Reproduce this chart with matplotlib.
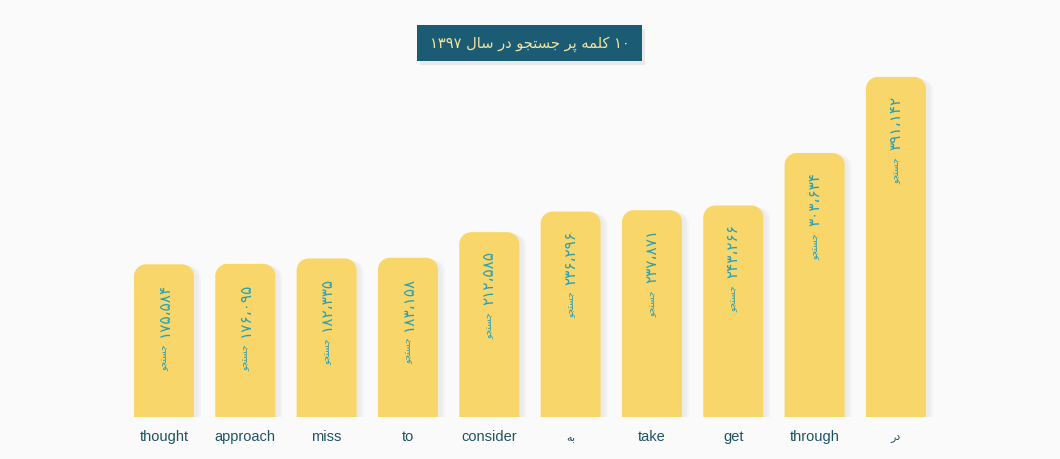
import numpy as np
import matplotlib
matplotlib.use('Agg')
import matplotlib.pyplot as plt
from matplotlib.path import Path
from matplotlib.patches import PathPatch, FancyBboxPatch

# data
words = ["thought", "approach", "miss", "to", "consider", "به", "take", "get", "through", "در"]
searches = [175584, 176095, 182335, 183158, 212585, 236296, 237871, 243266, 303634, 391142]
title = "۱۰ کلمه پر جستجو در سال ۱۳۹۷"
unit_word = "جستجو"

BG = '#fafafa'
BAR = '#f8d66a'
SHADOW = '#ebebeb'
TEAL = '#1b5b73'
LABEL = '#1f5364'
VALUE = '#2a9fb4'

# minimal arabic shaping (isolated, final, initial, medial)
FORMS = {
    'ا': (0xFE8D, 0xFE8E, None, None),
    'د': (0xFEA9, 0xFEAA, None, None),
    'ر': (0xFEAD, 0xFEAE, None, None),
    'و': (0xFEED, 0xFEEE, None, None),
    'ب': (0xFE8F, 0xFE90, 0xFE91, 0xFE92),
    'ج': (0xFE9D, 0xFE9E, 0xFE9F, 0xFEA0),
    'س': (0xFEB1, 0xFEB2, 0xFEB3, 0xFEB4),
    'ت': (0xFE95, 0xFE96, 0xFE97, 0xFE98),
    'ل': (0xFEDD, 0xFEDE, 0xFEDF, 0xFEE0),
    'م': (0xFEE1, 0xFEE2, 0xFEE3, 0xFEE4),
    'ه': (0xFEE9, 0xFEEA, 0xFEEB, 0xFEEC),
    'پ': (0xFB56, 0xFB57, 0xFB58, 0xFB59),
    'ک': (0xFB8E, 0xFB8F, 0xFB90, 0xFB91),
}

def shape_word(w):
    out = []
    for i, c in enumerate(w):
        if c not in FORMS:
            out.append(c)
            continue
        prev = w[i - 1] if i > 0 else None
        nxt = w[i + 1] if i + 1 < len(w) else None
        jp = prev in FORMS and FORMS[prev][2] is not None
        jn = nxt in FORMS and FORMS[c][2] is not None
        iso, fin, ini, med = FORMS[c]
        if jp and jn:
            out.append(chr(med))
        elif jp:
            out.append(chr(fin))
        elif jn:
            out.append(chr(ini))
        else:
            out.append(chr(iso))
    return ''.join(out)

def rtl(s):
    toks = s.split(' ')
    vis = []
    for t in reversed(toks):
        if any(ch in FORMS for ch in t):
            vis.append(shape_word(t)[::-1])
        else:
            vis.append(t)
    return ' '.join(vis)

def fa_num(n):
    d = '۰۱۲۳۴۵۶۷۸۹'
    s = f"{n:,}".replace(',', '،')
    return ''.join(d[int(ch)] if ch.isdigit() else ch for ch in s)

fig = plt.figure(figsize=(10.6, 4.6), dpi=100)
fig.patch.set_facecolor(BG)
ax = fig.add_axes([123.3 / 1060, 42 / 460, 813.3 / 1060, 347.8 / 460])
ax.set_facecolor(BG)
ymax = 400000
ax.set_xlim(-0.5, len(words) - 0.5)
ax.set_ylim(0, ymax)
ax.axis('off')

px_x = len(words) / 813.3      # data units per pixel
px_y = ymax / 347.8
bw = 60 * px_x
r = 12

def rounded_bar(x0, w, h, rad_px):
    rx, ry = rad_px * px_x, rad_px * px_y
    k = 0.5523
    verts = [(x0, 0), (x0, h - ry),
             (x0, h - ry + k * ry), (x0 + rx - k * rx, h), (x0 + rx, h),
             (x0 + w - rx, h),
             (x0 + w - rx + k * rx, h), (x0 + w, h - ry + k * ry), (x0 + w, h - ry),
             (x0 + w, 0), (x0, 0)]
    codes = [Path.MOVETO, Path.LINETO,
             Path.CURVE4, Path.CURVE4, Path.CURVE4,
             Path.LINETO,
             Path.CURVE4, Path.CURVE4, Path.CURVE4,
             Path.LINETO, Path.CLOSEPOLY]
    return Path(verts, codes)

for i, v in enumerate(searches):
    x0 = i - bw / 2
    for off, a in [(7, 0.35), (5, 0.6), (3, 1.0)]:
        sh = PathPatch(rounded_bar(x0 + off * px_x, bw, v - 2 * px_y, r), facecolor=SHADOW,
                       edgecolor='none', alpha=a, zorder=1)
        ax.add_patch(sh)
    ax.add_patch(PathPatch(rounded_bar(x0, bw, v, r), facecolor=BAR, edgecolor='none', zorder=2))
    ax.annotate(fa_num(v), (i, v), xytext=(0, -18), textcoords='offset pixels',
                rotation=90, ha='center', va='top', fontsize=11, color=VALUE,
                family='DejaVu Sans', zorder=3)
    ax.annotate(rtl(unit_word), (i, v), xytext=(1, -79), textcoords='offset pixels',
                rotation=90, ha='center', va='top', fontsize=6.5, color=VALUE,
                family='DejaVu Sans', zorder=3)
    is_fa = any(ch in FORMS for ch in words[i])
    ax.annotate(rtl(words[i]) if is_fa else words[i], (i, 0), xytext=(0, -19),
                textcoords='offset pixels', ha='center', va='center',
                fontsize=8 if is_fa else 10.5, color=LABEL,
                family='DejaVu Sans' if is_fa else 'Liberation Sans')

# title box
fig.patches.append(FancyBboxPatch((420 / 1060, (460 - 66) / 460), 225 / 1060, 36 / 460,
                                  boxstyle='square,pad=0', transform=fig.transFigure,
                                  facecolor='#e9e9e9', edgecolor='none', zorder=0))
fig.patches.append(FancyBboxPatch((417 / 1060, (460 - 62) / 460), 225 / 1060, 36 / 460,
                                  boxstyle='square,pad=0', transform=fig.transFigure,
                                  facecolor=TEAL, edgecolor='none', zorder=1))
fig.text(529.5 / 1060, (460 - 44) / 460, rtl(title), ha='center', va='center',
         fontsize=10.5, color='#f3e3a0', family='DejaVu Sans')

fig.savefig('out.png', dpi=100, facecolor=BG)
